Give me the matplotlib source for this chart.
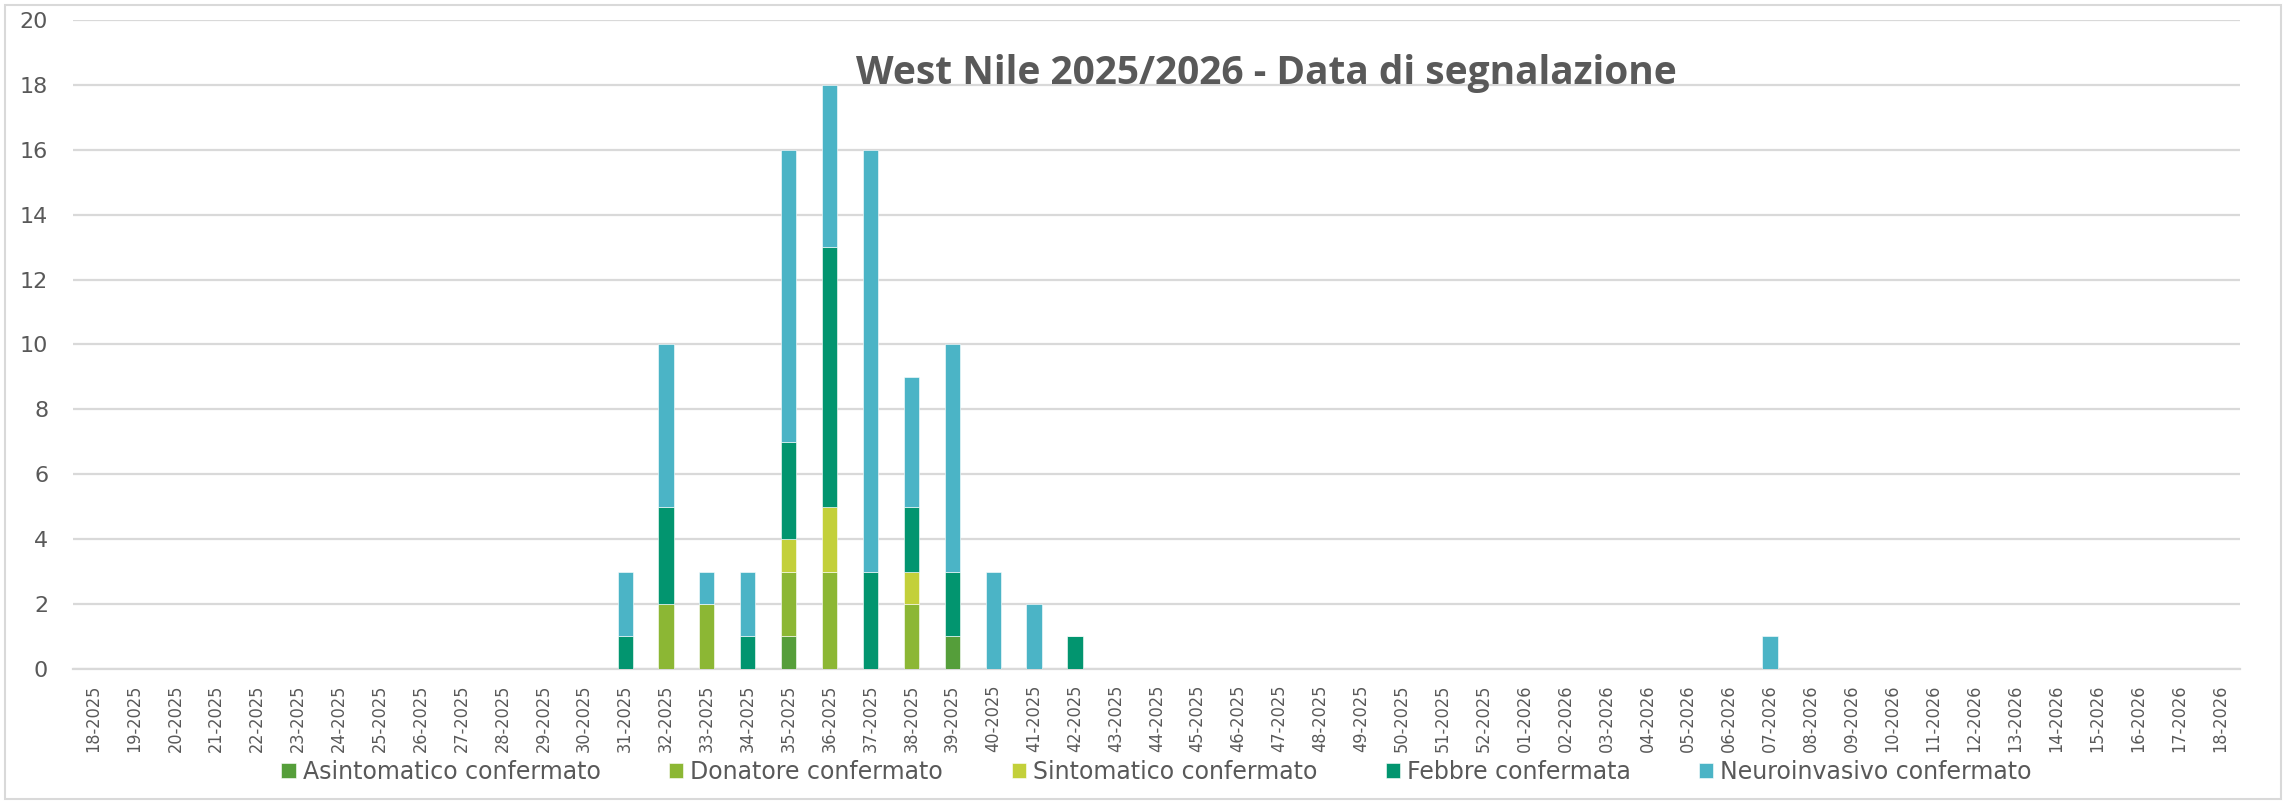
import matplotlib
matplotlib.use("Agg")
import matplotlib.pyplot as plt
from matplotlib.patches import Rectangle
from matplotlib import font_manager
from matplotlib.font_manager import FontProperties
import numpy as np

weeks = [f"{w:02d}-2025" for w in range(18, 53)] + [f"{w:02d}-2026" for w in range(1, 19)]

def series(d):
    return [d.get(w, 0) for w in weeks]

asintomatico = series({"35-2025": 1, "39-2025": 1})
donatore = series({"32-2025": 2, "33-2025": 2, "35-2025": 2, "36-2025": 3, "38-2025": 2})
sintomatico = series({"35-2025": 1, "36-2025": 2, "38-2025": 1})
febbre = series({"31-2025": 1, "32-2025": 3, "34-2025": 1, "35-2025": 3, "36-2025": 8,
                 "37-2025": 3, "38-2025": 2, "39-2025": 2, "42-2025": 1})
neuro = series({"31-2025": 2, "32-2025": 5, "33-2025": 1, "34-2025": 2, "35-2025": 9,
                "36-2025": 5, "37-2025": 13, "38-2025": 4, "39-2025": 7, "40-2025": 3,
                "41-2025": 2, "07-2026": 1})

series_names = ["Asintomatico confermato", "Donatore confermato", "Sintomatico confermato",
                "Febbre confermata", "Neuroinvasivo confermato"]
series_vals = [asintomatico, donatore, sintomatico, febbre, neuro]
colors = ["#559E3A", "#8CB734", "#C3D03A", "#02956F", "#4BB4C6"]
title = "West Nile 2025/2026 - Data di segnalazione"

# look for a condensed font file for the week labels
cond_path = None
files = [f.fname for f in font_manager.fontManager.ttflist]
for key in ["LiberationSansNarrow-Regular", "DejaVuSansCondensed.ttf",
            "RobotoCondensed-Regular", "OpenSans_Condensed-Regular", "OpenSans-CondensedRegular"]:
    for fn in files:
        if key in fn:
            cond_path = fn
            break
    if cond_path:
        break

if cond_path is not None:
    if "Narrow" in cond_path:
        xprop = FontProperties(fname=cond_path, size=16)
    else:
        xprop = FontProperties(fname=cond_path, size=13)
else:
    xprop = FontProperties(family="DejaVu Sans", size=12)

fig = plt.figure(figsize=(22.86, 8.02), dpi=100)
ax = fig.add_axes([0.032, 0.166, 0.948, 0.809])

x = np.arange(len(weeks))
bottom = np.zeros(len(weeks))
for name, vals, c in zip(series_names, series_vals, colors):
    v = np.array(vals, dtype=float)
    ax.bar(x, v, width=0.37, bottom=bottom, color=c, label=name, zorder=3,
           edgecolor="#ffffff", linewidth=0.4)
    bottom += v

ax.set_xlim(-0.5, len(weeks) - 0.5)
ax.set_ylim(0, 20)
ax.set_yticks(range(0, 21, 2))
ax.yaxis.grid(True, color="#D9D9D9", linewidth=1.6, zorder=0)
ax.set_axisbelow(True)
for s in ["top", "right", "left"]:
    ax.spines[s].set_visible(False)
ax.spines["bottom"].set_color("#D9D9D9")
ax.spines["bottom"].set_linewidth(1.6)
ax.set_xticks(x)
ax.set_xticklabels(weeks, rotation=90, color="#595959", fontproperties=xprop)
ax.tick_params(axis="x", length=0, pad=11)
ax.tick_params(axis="y", length=0, pad=18, labelsize=16, labelcolor="#595959")

ax.text(0.5505, 0.918, title, transform=ax.transAxes, ha="center", va="center",
        fontsize=28, fontweight="bold", color="#595959", family=["Open Sans", "DejaVu Sans"])

leg = fig.legend(loc="center", bbox_to_anchor=(0.506, 0.0374), ncol=5, frameon=False,
                 fontsize=17, handlelength=0.6, handleheight=0.6, handletextpad=0.3,
                 columnspacing=2.9)
for t in leg.get_texts():
    t.set_color("#595959")

fig.add_artist(Rectangle((0.002, 0.004), 0.996, 0.99, transform=fig.transFigure,
                         fill=False, edgecolor="#D9D9D9", linewidth=1.5))

fig.savefig("out.png", dpi=100)
